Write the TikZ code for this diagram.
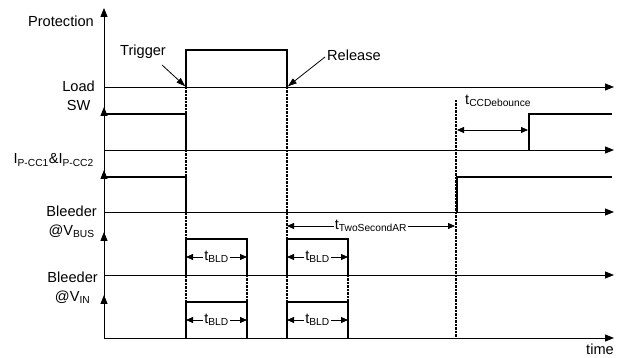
\documentclass[tikz,border=0pt]{standalone}
\usepackage{fontspec}
\setmainfont{Liberation Sans}
\usetikzlibrary{arrows.meta}

\begin{document}
\begin{tikzpicture}[x=1pt, y=-1pt,
  lbl/.style={font=\fontsize{14.6}{18.5}\selectfont, align=center, inner sep=0pt},
  axis/.style={line width=0.9pt, -{Triangle[length=9pt,width=7pt]}},
  sig/.style={line width=2.6pt},
  evt/.style={line width=2.6pt, dash pattern=on 2.5pt off 1pt},
  dim/.style={line width=0.8pt, {Triangle[length=7pt,width=6pt]}-{Triangle[length=7pt,width=6pt]}},
  ptr/.style={line width=0.8pt, -{Triangle[length=9pt,width=6pt]}, shorten >=1pt}
]
\useasboundingbox (0,0) rectangle (622,358);

% channel labels
\node[lbl, anchor=east] (prot) at (94,21) {Protection};
\node[lbl, anchor=east] (load) at (95,96) {Load\\SW};
\node[lbl, anchor=east] (ipcc) at (94,160) {I\textsubscript{P-CC1}\&I\textsubscript{P-CC2}};
\node[lbl, anchor=east] (bbus) at (97,222) {Bleeder\\@V\textsubscript{BUS}};
\node[lbl, anchor=east] (bvin) at (98,288) {Bleeder\\@V\textsubscript{IN}};
\node[lbl, anchor=east] (time) at (614,349) {time};

% event instants
\coordinate (trigpt) at (186,87);
\coordinate (relpt) at (287,87);
\coordinate (arpt) at (456,100);

% axes
\draw[line width=0.9pt] (104,338) -- (104,87);
\draw[axis] (104,87) -- (104,8);
\foreach \b/\t in {150/107, 212/170, 275/232, 338/295}
  \draw[axis] (104,\b) -- (104,\t);
\foreach \b in {87,150,212,275,338}
  \draw[axis] (104,\b) -- (614,\b);

% waveforms
\draw[sig] (186,87) -- (186,50) -- (287,50) -- (287,87);
\draw[sig] (104,114) -- (186,114) -- (186,150);
\draw[sig] (529,150) -- (529,114) -- (612,114);
\draw[sig] (104,177) -- (186,177) -- (186,212);
\draw[sig] (457,212) -- (457,177) -- (612,177);
\foreach \x/\w in {186/247, 287/348} {
  \draw[sig] (\x,275) -- (\x,239) -- (\w,239) -- (\w,275);
  \draw[sig] (\x,338) -- (\x,302) -- (\w,302) -- (\w,338);
  \draw[evt] (\w,275) -- (\w,302);
  \draw[dim] (\x,257) -- node[lbl, fill=white, inner sep=1pt] {t\textsubscript{BLD}} (\w,257);
  \draw[dim] (\x,320) -- node[lbl, fill=white, inner sep=1pt] {t\textsubscript{BLD}} (\w,320);
}

% dotted event markers
\draw[evt] (trigpt) -- (186,338);
\draw[evt] (relpt) -- (287,338);
\draw[evt] (arpt) -- (456,338);

% timing intervals
\draw[dim] (287,226) -- node[lbl, fill=white, inner sep=1pt] (tar) {t\textsubscript{TwoSecondAR}} (455,226);
\draw[dim] (457,130) -- (528,130);
\node[lbl, anchor=west] (tdeb) at (465,101) {t\textsubscript{CCDebounce}};

% trigger / release
\node[lbl] (trig) at (143,52) {Trigger};
\node[lbl, anchor=west] (rel) at (327,55) {Release};
\draw[ptr] (trig.south east) ++(-4,6) -- (trigpt);
\draw[ptr] (rel.west) ++(-2,2) -- (relpt);
\end{tikzpicture}
\end{document}
